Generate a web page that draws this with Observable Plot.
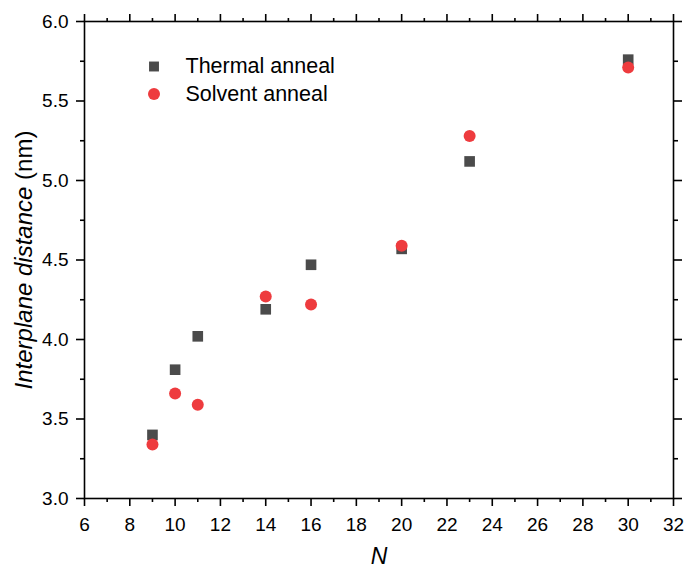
<!DOCTYPE html>
<html>
<head>
<meta charset="utf-8">
<script src="https://cdn.jsdelivr.net/npm/d3@7"></script>
<script src="https://cdn.jsdelivr.net/npm/@observablehq/plot@0.6"></script>
<style>
  html, body { margin: 0; padding: 0; background: #fff; }
</style>
</head>
<body>
<div id="chart"></div>
<script>
// ---- data ----
const N = [9, 10, 11, 14, 16, 20, 23, 30];
const thermal = [3.40, 3.81, 4.02, 4.19, 4.47, 4.57, 5.12, 5.76];
const solvent = [3.34, 3.66, 3.59, 4.27, 4.22, 4.59, 5.28, 5.71];
const seriesNames = ["Thermal anneal", "Solvent anneal"];
const xMajor = [6, 8, 10, 12, 14, 16, 18, 20, 22, 24, 26, 28, 30, 32];
const xMinor = [7, 9, 11, 13, 15, 17, 19, 21, 23, 25, 27, 29, 31];
const yMajor = [3.0, 3.5, 4.0, 4.5, 5.0, 5.5, 6.0];
const yMinor = [3.25, 3.75, 4.25, 4.75, 5.25, 5.75];
const xTitle = "N";
const yTitle = "Interplane distance (nm)";

const thermalData = N.map((n, i) => ({n, v: thermal[i]}));
const solventData = N.map((n, i) => ({n, v: solvent[i]}));

const grey = "#4b4b4b";
const red = "#ee3b3e";
const font = "'Liberation Sans', Arial, sans-serif";
const blank = () => "";
const sw = 1.6;

const svg = Plot.plot({
  width: 687,
  height: 570,
  marginLeft: 84,
  marginRight: 14,
  marginTop: 21,
  marginBottom: 72,
  style: {fontFamily: font, background: "#fff", color: "#000"},
  x: {domain: [6, 32]},
  y: {domain: [3, 6]},
  marks: [
    Plot.frame({stroke: "#000", strokeWidth: sw}),
    Plot.axisX({anchor: "bottom", ticks: xMajor, tickSize: 8, tickPadding: 11, fontSize: 19, label: null, strokeWidth: sw}),
    Plot.axisX({anchor: "bottom", ticks: xMinor, tickSize: 4, tickFormat: blank, label: null, strokeWidth: sw}),
    Plot.axisX({anchor: "top", ticks: xMajor, tickSize: 8, tickFormat: blank, label: null, strokeWidth: sw}),
    Plot.axisX({anchor: "top", ticks: xMinor, tickSize: 4, tickFormat: blank, label: null, strokeWidth: sw}),
    Plot.axisY({anchor: "left", ticks: yMajor, tickSize: 8, tickPadding: 8, tickFormat: ".1f", fontSize: 19, label: null, strokeWidth: sw}),
    Plot.axisY({anchor: "left", ticks: yMinor, tickSize: 4, tickFormat: blank, label: null, strokeWidth: sw}),
    Plot.axisY({anchor: "right", ticks: yMajor, tickSize: 8, tickFormat: blank, label: null, strokeWidth: sw}),
    Plot.axisY({anchor: "right", ticks: yMinor, tickSize: 4, tickFormat: blank, label: null, strokeWidth: sw}),
    Plot.dot(thermalData, {x: "n", y: "v", symbol: "square", r: 6, fill: grey}),
    Plot.dot(solventData, {x: "n", y: "v", symbol: "circle", r: 6, fill: red}),
    // legend
    Plot.dot([seriesNames[0]], {frameAnchor: "top-left", dx: 69.5, dy: 45, symbol: "square", r: 5.6, fill: grey}),
    Plot.dot([seriesNames[1]], {frameAnchor: "top-left", dx: 69.5, dy: 72.5, symbol: "circle", r: 6, fill: red}),
    Plot.text([seriesNames[0]], {frameAnchor: "top-left", dx: 101, dy: 45, text: d => d, textAnchor: "start", lineAnchor: "middle", fontSize: 21.5, fill: "#000"}),
    Plot.text([seriesNames[1]], {frameAnchor: "top-left", dx: 101, dy: 73, text: d => d, textAnchor: "start", lineAnchor: "middle", fontSize: 21.5, fill: "#000"}),
    // axis titles
    Plot.text([xTitle], {frameAnchor: "bottom", dy: 58, text: d => d, textAnchor: "middle", lineAnchor: "middle", fontSize: 23, fontStyle: "italic", fill: "#000"}),
    Plot.text([yTitle], {frameAnchor: "left", dx: -60, rotate: -90, text: d => d, textAnchor: "middle", lineAnchor: "middle", fontSize: 24, fill: "#000"})
  ]
});

// mixed italic / upright in the y title
d3.select(svg).selectAll("text").filter(function() { return this.textContent === yTitle; })
  .each(function() {
    const t = d3.select(this);
    t.text(null);
    t.append("tspan").attr("font-style", "italic").text("Interplane distance");
    t.append("tspan").text(" (nm)");
  });

document.getElementById("chart").appendChild(svg);
</script>
</body>
</html>
